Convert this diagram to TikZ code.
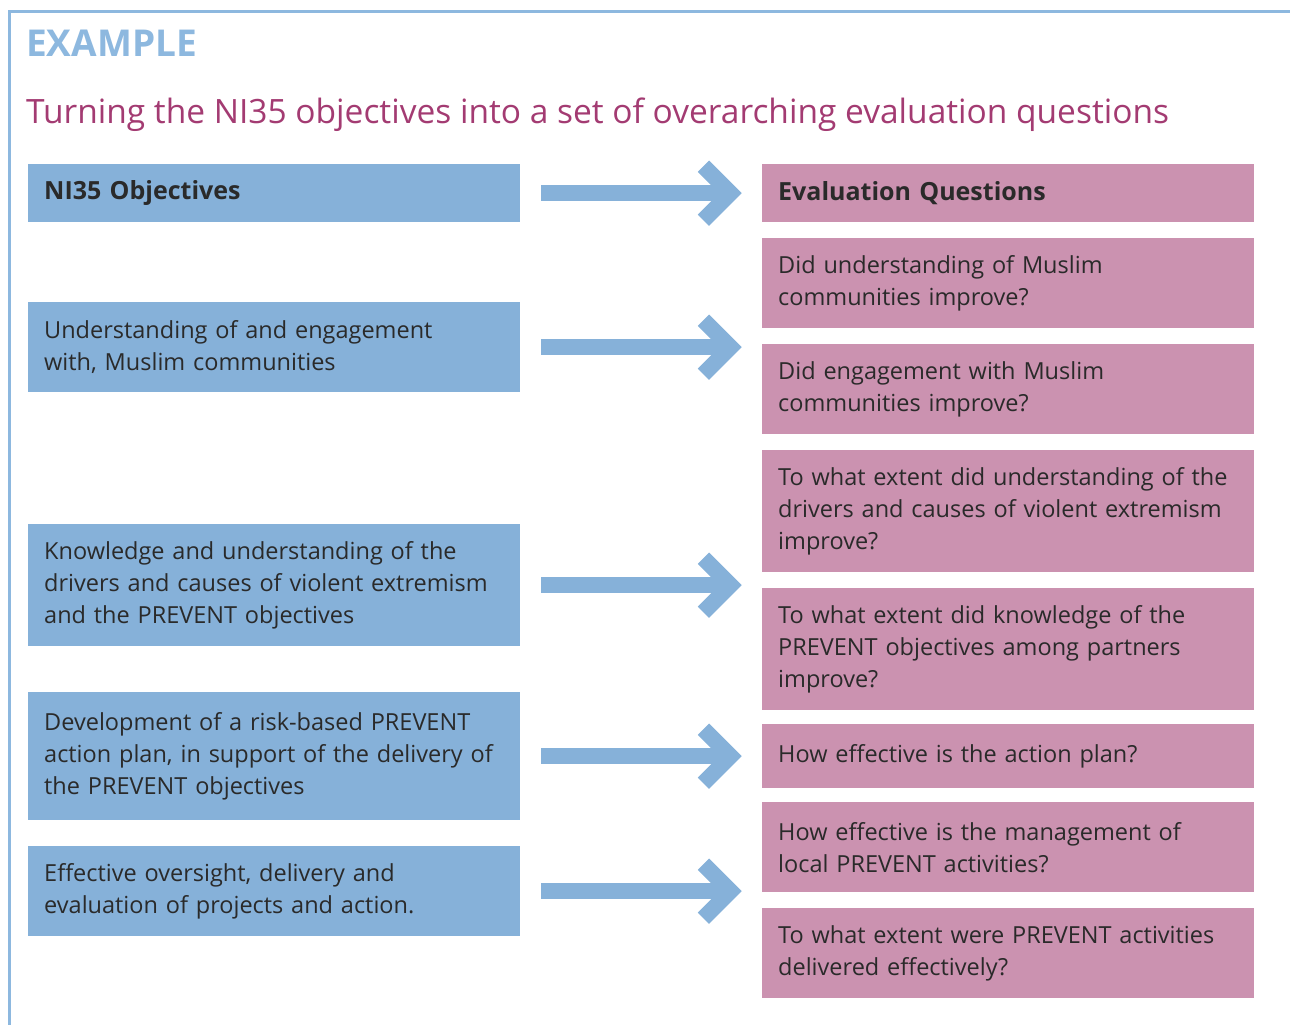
\documentclass[tikz,border=0pt]{standalone}
\usepackage{fontspec}
\setmainfont{Open Sans}
\usetikzlibrary{calc}
\definecolor{blueC}{HTML}{86B1D9}
\definecolor{pinkC}{HTML}{CB92B0}
\definecolor{titleC}{HTML}{A33B72}
\definecolor{txtC}{HTML}{2A2A2A}
\definecolor{frameC}{HTML}{8DB8DF}
\begin{document}
\begin{tikzpicture}[x=1pt,y=-1pt,
  boxbase/.style={rectangle,anchor=north west,minimum width=492pt,text width=460pt,
    inner xsep=16pt,inner ysep=0pt,align=left,text=txtC,
    font=\fontsize{23.5}{32}\selectfont},
  lbox/.style={boxbase,fill=blueC},
  rbox/.style={boxbase,fill=pinkC},
  headbox/.style={font=\fontsize{25}{32}\selectfont\bfseries},
  shaft/.style={draw=blueC,line width=16pt,line cap=butt},
  chev/.style={draw=blueC,line width=16pt,line cap=butt,line join=miter}]
\useasboundingbox (0,0) rectangle (1290,1025);
% frame
\draw[frameC,line width=3pt] (9.5,1025) -- (9.5,11.5) coordinate (fc) -- (1290,11.5);
% headings
\node[anchor=base west,inner sep=0pt,text=frameC,font=\fontsize{37}{40}\selectfont\bfseries] (ex) at (26,57) {EXAMPLE};
\node[anchor=base west,inner sep=0pt,text=titleC,font=\fontsize{33.5}{40}\selectfont] (tt) at (26,123) {Turning the NI35 objectives into a set of overarching evaluation questions};
% left boxes
\node[lbox,headbox,minimum height=58pt] (l1) at (28,164) {NI35 Objectives};
\node[lbox,minimum height=90pt] (l2) at (28,302) {Understanding of and engagement\\with, Muslim communities};
\node[lbox,minimum height=122pt] (l3) at (28,524) {Knowledge and understanding of the\\drivers and causes of violent extremism\\and the PREVENT objectives};
\node[lbox,minimum height=128pt] (l4) at (28,692) {Development of a risk-based PREVENT\\action plan, in support of the delivery of\\the PREVENT objectives};
\node[lbox,minimum height=90pt] (l5) at (28,846) {Effective oversight, delivery and\\evaluation of projects and action.};
% right boxes
\node[rbox,headbox,minimum height=58pt] (r1) at (762,164) {Evaluation Questions};
\node[rbox,minimum height=90pt] (r2) at (762,238) {Did understanding of Muslim\\communities improve?};
\node[rbox,minimum height=90pt] (r3) at (762,344) {Did engagement with Muslim\\communities improve?};
\node[rbox,minimum height=122pt] (r4) at (762,450) {To what extent did understanding of the\\drivers and causes of violent extremism\\improve?};
\node[rbox,minimum height=122pt] (r5) at (762,588) {To what extent did knowledge of the\\PREVENT objectives among partners\\improve?};
\node[rbox,minimum height=64pt] (r6) at (762,724) {How effective is the action plan?};
\node[rbox,minimum height=90pt] (r7) at (762,802) {How effective is the management of\\local PREVENT activities?};
\node[rbox,minimum height=90pt] (r8) at (762,908) {To what extent were PREVENT activities\\delivered effectively?};
% arrows
\foreach \n in {1,...,5}{
  \coordinate (as\n) at ([xshift=21pt]l\n.east);
  \coordinate (at\n) at ([xshift=210pt]l\n.east);
  \draw[shaft] (as\n) -- (at\n);
  \draw[chev] ($(at\n)+(-27,-27)$) -- (at\n) -- ($(at\n)+(-27,27)$);
}
\end{tikzpicture}
\end{document}
